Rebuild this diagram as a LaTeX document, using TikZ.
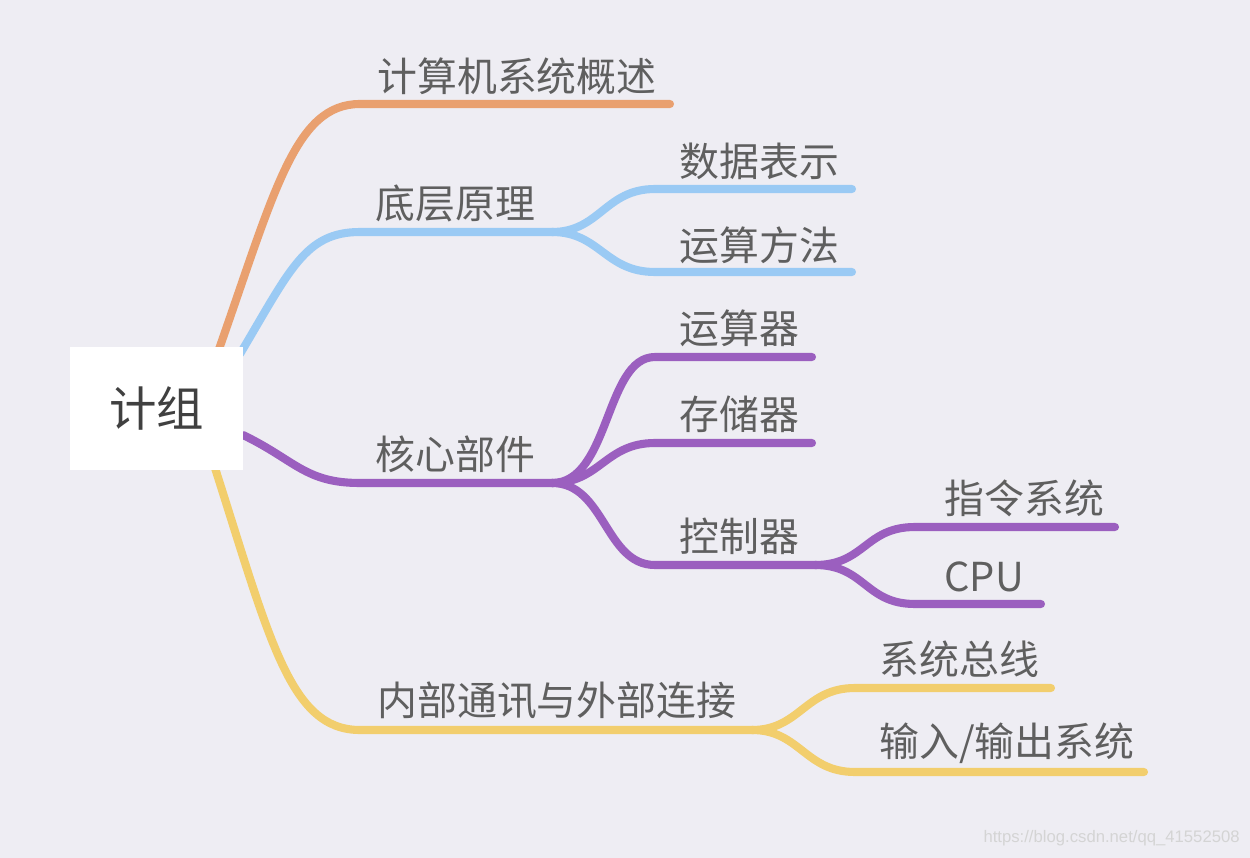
\documentclass[tikz,border=0pt]{standalone}
\usepackage{fontspec}
\setmainfont{Noto Sans CJK SC}
\newfontfamily\wmfont{Liberation Sans}
\usetikzlibrary{positioning}
\definecolor{bgcol}{HTML}{EEEDF3}
\definecolor{txtcol}{HTML}{5F5F5F}
\definecolor{orangeb}{HTML}{E9A06F}
\definecolor{blueb}{HTML}{9ACAF4}
\definecolor{purpleb}{HTML}{9B5FBF}
\definecolor{yellowb}{HTML}{F2CE6D}
\tikzset{
  branch/.style={line width=4.6pt, line cap=round},
  topic/.style={
    anchor=west,
    inner sep=0pt,
    text=txtcol,
    font=\fontsize{22.7}{27}\selectfont},
  rootbox/.style={
    fill=white,
    minimum width=3.46cm,
    minimum height=2.46cm,
    text=black!75,
    font=\fontsize{27}{32}\selectfont},
}

\begin{document}
\begin{tikzpicture}[x=0.02cm, y=-0.02cm]

    \fill[bgcol] (0,0) rectangle (1250,858);
    \useasboundingbox (0,0) rectangle (1250,858);

    % line ends
    \coordinate (r-o) at (218,352);
    \coordinate (r-b) at (240,354);
    \coordinate (r-p) at (243,435);
    \coordinate (r-y) at (215,468);

    \coordinate (overview-s) at (360,104);  \coordinate (overview-e) at (670,104);
    \coordinate (basics-s)   at (360,232);  \coordinate (basics-e)   at (552,232);
    \coordinate (datarep-s)  at (655,189);  \coordinate (datarep-e)  at (852,189);
    \coordinate (arith-s)    at (655,272);  \coordinate (arith-e)    at (852,272);
    \coordinate (core-s)     at (360,483);  \coordinate (core-e)     at (552,483);
    \coordinate (alu-s)      at (655,357);  \coordinate (alu-e)      at (812,357);
    \coordinate (mem-s)      at (655,443);  \coordinate (mem-e)      at (812,443);
    \coordinate (ctrl-s)     at (655,565);  \coordinate (ctrl-e)     at (815,565);
    \coordinate (isa-s)      at (915,527);  \coordinate (isa-e)      at (1115,527);
    \coordinate (cpu-s)      at (915,604);  \coordinate (cpu-e)      at (1041,604);
    \coordinate (comm-s)     at (360,730);  \coordinate (comm-e)     at (752,730);
    \coordinate (bus-s)      at (855,688);  \coordinate (bus-e)      at (1051,688);
    \coordinate (io-s)       at (855,772);  \coordinate (io-e)       at (1144,772);

    % branches
    \draw[branch, orangeb] (r-o) .. controls (275,190) and (295,104) .. (overview-s) -- (overview-e);

    \draw[branch, blueb] (r-b) .. controls (290,270) and (305,232) .. (basics-s) -- (basics-e);
    \draw[branch, blueb] (basics-e) .. controls (600,232) and (605,189) .. (datarep-s) -- (datarep-e);
    \draw[branch, blueb] (basics-e) .. controls (600,232) and (605,272) .. (arith-s) -- (arith-e);

    \draw[branch, purpleb] (r-p) .. controls (295,460) and (305,483) .. (core-s) -- (core-e);
    \draw[branch, purpleb] (core-e) .. controls (610,483) and (605,357) .. (alu-s) -- (alu-e);
    \draw[branch, purpleb] (core-e) .. controls (600,483) and (605,443) .. (mem-s) -- (mem-e);
    \draw[branch, purpleb] (core-e) .. controls (605,483) and (605,565) .. (ctrl-s) -- (ctrl-e);
    \draw[branch, purpleb] (ctrl-e) .. controls (865,565) and (865,527) .. (isa-s) -- (isa-e);
    \draw[branch, purpleb] (ctrl-e) .. controls (865,565) and (865,604) .. (cpu-s) -- (cpu-e);

    \draw[branch, yellowb] (r-y) .. controls (270,640) and (290,730) .. (comm-s) -- (comm-e);
    \draw[branch, yellowb] (comm-e) .. controls (800,730) and (805,688) .. (bus-s) -- (bus-e);
    \draw[branch, yellowb] (comm-e) .. controls (800,730) and (805,772) .. (io-s) -- (io-e);

    % root
    \node[rootbox] (root) at (156.5,408.5) {计组};

    % topics
    \node[topic] (overview) at (377,76)  {计算机系统概述};
    \node[topic] (basics)   at (375,203) {底层原理};
    \node[topic] (datarep)  at (679,161) {数据表示};
    \node[topic] (arith)    at (679,245) {运算方法};
    \node[topic] (core)     at (375,454) {核心部件};
    \node[topic] (alu)      at (679,328) {运算器};
    \node[topic] (mem)      at (679,414) {存储器};
    \node[topic] (ctrl)     at (679,536) {控制器};
    \node[topic] (isa)      at (944,498) {指令系统};
    \node[topic] (cpu)      at (944,577) {CPU};
    \node[topic] (comm)     at (377,701) {内部通讯与外部连接};
    \node[topic] (bus)      at (879,659) {系统总线};
    \node[topic] (io)       at (879,743) {输入/输出系统};

    \node[anchor=east, inner sep=0pt, text=black!17, font=\wmfont\fontsize{9.5}{11}\selectfont]
        (mark) at (1240,838) {https://blog.csdn.net/qq\_41552508};
\end{tikzpicture}
\end{document}
